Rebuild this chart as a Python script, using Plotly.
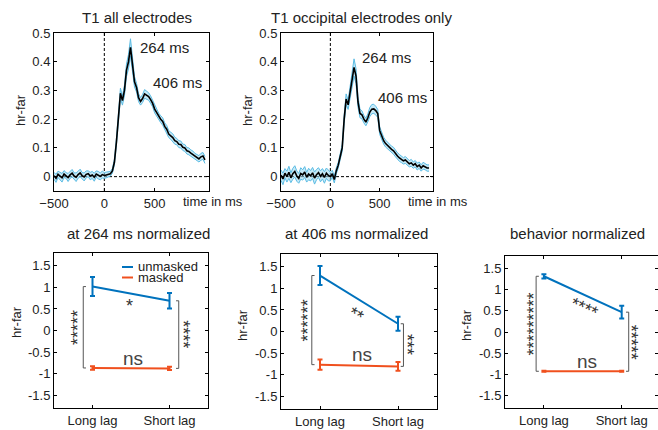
import plotly.graph_objects as go

W, H = 658, 430
FONT = "Liberation Sans, Arial, sans-serif"

# ---------------- data ----------------
time_ms = list(range(-500, 1001, 20))

t1_all_mean = [
    0.003, -0.006, 0.008, 0.001, -0.004, 0.009, 0.004, -0.003, 0.006, 0.012,
    0.002, -0.002, 0.007, 0.013, 0.003, -0.001, 0.008, 0.010, 0.002, 0.006,
    -0.002, 0.009, 0.005, 0.001, 0.007,
    0.004, 0.006, 0.008, 0.010, 0.020, 0.050, 0.120, 0.220, 0.290, 0.265,
    0.300, 0.370, 0.400, 0.450, 0.390, 0.330, 0.310, 0.275, 0.262, 0.272,
    0.288, 0.284, 0.279, 0.268, 0.255, 0.235, 0.222, 0.208, 0.200, 0.192,
    0.175, 0.165, 0.148, 0.142, 0.136, 0.125, 0.122, 0.113, 0.112, 0.102,
    0.100, 0.090, 0.088, 0.082, 0.077, 0.070, 0.066, 0.062, 0.069, 0.072,
    0.058,
]
t1_all_sem = [
    0.012, 0.014, 0.011, 0.013, 0.015, 0.012, 0.010, 0.014, 0.012, 0.013,
    0.011, 0.015, 0.012, 0.013, 0.011, 0.014, 0.012, 0.010, 0.013, 0.012,
    0.014, 0.011, 0.013, 0.012, 0.012,
    0.010, 0.010, 0.008, 0.008, 0.008, 0.010, 0.012, 0.015, 0.018, 0.016,
    0.018, 0.022, 0.025, 0.030, 0.024, 0.018, 0.015, 0.014, 0.013, 0.014,
    0.015, 0.014, 0.013, 0.013, 0.012, 0.013, 0.012, 0.013, 0.012, 0.013,
    0.012, 0.013, 0.012, 0.012, 0.013, 0.012, 0.011, 0.012, 0.012, 0.011,
    0.012, 0.011, 0.012, 0.011, 0.012, 0.011, 0.012, 0.011, 0.012, 0.012,
    0.012,
]
t1_occ_mean = [
    0.005, -0.008, 0.012, 0.000, 0.015, -0.004, 0.010, 0.018, 0.002, -0.006,
    0.011, 0.006, 0.016, -0.002, 0.009, 0.003, 0.013, -0.005, 0.007, 0.014,
    0.001, 0.010, -0.003, 0.012, 0.004,
    0.000, 0.010, -0.010, 0.020, 0.040, 0.070, 0.100, 0.200, 0.270, 0.250,
    0.290, 0.330, 0.380, 0.350, 0.260, 0.220, 0.215, 0.200, 0.190, 0.205,
    0.225, 0.235, 0.236, 0.230, 0.220, 0.160, 0.140, 0.125, 0.115, 0.108,
    0.100, 0.095, 0.090, 0.080, 0.072, 0.065, 0.060, 0.055, 0.058, 0.050,
    0.045, 0.048, 0.040, 0.045, 0.035, 0.040, 0.030, 0.038, 0.035, 0.030,
    0.030,
]
t1_occ_sem = [
    0.018, 0.020, 0.016, 0.019, 0.021, 0.017, 0.019, 0.020, 0.018, 0.017,
    0.020, 0.018, 0.019, 0.017, 0.020, 0.018, 0.019, 0.021, 0.018, 0.017,
    0.019, 0.018, 0.020, 0.018, 0.019,
    0.015, 0.012, 0.012, 0.010, 0.010, 0.010, 0.012, 0.015, 0.018, 0.016,
    0.020, 0.025, 0.030, 0.026, 0.018, 0.015, 0.014, 0.013, 0.013, 0.014,
    0.016, 0.016, 0.016, 0.015, 0.014, 0.013, 0.012, 0.012, 0.012, 0.011,
    0.012, 0.011, 0.012, 0.011, 0.011, 0.012, 0.011, 0.011, 0.012, 0.011,
    0.011, 0.012, 0.011, 0.011, 0.012, 0.011, 0.011, 0.012, 0.011, 0.011,
    0.011,
]

lags = ["Long lag", "Short lag"]
lag_pos = [1, 2]

p264_unmasked = [1.02, 0.69]
p264_unmasked_err = [0.22, 0.18]
p264_masked = [-0.87, -0.88]
p264_masked_err = [0.04, 0.04]

p406_unmasked = [1.30, 0.18]
p406_unmasked_err = [0.22, 0.16]
p406_masked = [-0.77, -0.81]
p406_masked_err = [0.12, 0.10]

beh_unmasked = [1.32, 0.47]
beh_unmasked_err = [0.05, 0.15]
beh_masked = [-0.93, -0.93]
beh_masked_err = [0.01, 0.01]

titles_top = ["T1 all electrodes", "T1 occipital electrodes only"]
titles_bottom = ["at 264 ms normalized", "at 406 ms normalized", "behavior normalized"]

BLUE = "#0072BD"
ORANGE = "#F0501E"
BAND_LINE = "#5BBCE4"
BAND_FILL = "rgba(150,215,240,0.55)"
GRAY = "#555555"


def px_x(p):
    return p / W


def px_y(p):
    return 1 - p / H


fig = go.Figure()

# ---------------- axes layout ----------------
axis_common = dict(
    showline=True, linecolor="black", linewidth=1, mirror="ticks",
    ticks="inside", ticklen=3, tickcolor="black", showgrid=False,
    zeroline=False, automargin=False,
    tickfont=dict(family=FONT, size=13, color="#222"),
)

top_dom_x = [[px_x(54), px_x(209)], [px_x(281), px_x(433)]]
top_dom_y = [px_y(191), px_y(33)]
bot_dom_x = [[px_x(54), px_x(208)], [px_x(281), px_x(437)], [px_x(505), px_x(657.5)]]
bot_dom_y = [[px_y(408), px_y(253)], [px_y(409), px_y(254)], [px_y(408), px_y(256)]]
bot_xrange = [[0.5, 2.5], [0.5, 2.5], [0.5, 2.46]]

layout = dict(
    width=W, height=H, margin=dict(l=0, r=0, t=0, b=0, autoexpand=False),
    paper_bgcolor="white", plot_bgcolor="white", showlegend=False,
    font=dict(family=FONT, size=13, color="#222"),
)
for i in range(2):
    n = "" if i == 0 else str(i + 1)
    layout["xaxis" + n] = dict(axis_common, domain=top_dom_x[i], range=[-500, 1040],
                               tickvals=[-500, 0, 500], anchor="y" + n)
    layout["yaxis" + n] = dict(axis_common, domain=top_dom_y, range=[-0.05, 0.5],
                               tickvals=[0, 0.1, 0.2, 0.3, 0.4, 0.5],
                               ticktext=["0", "0.1", "0.2", "0.3", "0.4", "0.5"],
                               anchor="x" + n)
for i in range(3):
    n = str(i + 3)
    layout["xaxis" + n] = dict(axis_common, domain=bot_dom_x[i], range=bot_xrange[i],
                               tickvals=lag_pos, ticktext=lags, anchor="y" + n)
    layout["yaxis" + n] = dict(axis_common, domain=bot_dom_y[i], range=[-1.8, 1.8],
                               tickvals=[-1.5, -1, -0.5, 0, 0.5, 1, 1.5],
                               ticktext=["-1.5", "-1", "-0.5", "0", "0.5", "1", "1.5"],
                               anchor="x" + n)
fig.update_layout(**layout)

# ---------------- top panels ----------------
top_series = [(t1_all_mean, t1_all_sem), (t1_occ_mean, t1_occ_sem)]
shapes = []
for i, (m, s) in enumerate(top_series):
    n = "" if i == 0 else str(i + 1)
    xa, ya = "x" + n, "y" + n
    upper = [a + b for a, b in zip(m, s)]
    lower = [a - b for a, b in zip(m, s)]
    shapes.append(dict(type="line", xref=xa, yref=ya + " domain", x0=0, x1=0, y0=0, y1=1,
                       line=dict(color="black", width=1, dash="3px,2px"), layer="below"))
    shapes.append(dict(type="line", xref=xa + " domain", yref=ya, x0=0, x1=1, y0=0, y1=0,
                       line=dict(color="black", width=1, dash="3px,2px"), layer="below"))
    fig.add_trace(go.Scatter(x=time_ms, y=upper, mode="lines", xaxis=xa, yaxis=ya,
                             line=dict(color=BAND_LINE, width=1), hoverinfo="skip"))
    fig.add_trace(go.Scatter(x=time_ms, y=lower, mode="lines", xaxis=xa, yaxis=ya,
                             line=dict(color=BAND_LINE, width=1), fill="tonexty",
                             fillcolor=BAND_FILL, hoverinfo="skip"))
    fig.add_trace(go.Scatter(x=time_ms, y=m, mode="lines", xaxis=xa, yaxis=ya,
                             line=dict(color="black", width=1.6)))

# ---------------- bottom panels ----------------
bottom = [
    (p264_unmasked, p264_unmasked_err, p264_masked, p264_masked_err),
    (p406_unmasked, p406_unmasked_err, p406_masked, p406_masked_err),
    (beh_unmasked, beh_unmasked_err, beh_masked, beh_masked_err),
]
for i, (um, ue, mm, me) in enumerate(bottom):
    n = str(i + 3)
    xa, ya = "x" + n, "y" + n
    fig.add_trace(go.Scatter(x=lag_pos, y=um, mode="lines", xaxis=xa, yaxis=ya,
                             line=dict(color=BLUE, width=2),
                             error_y=dict(type="data", array=ue, color=BLUE, thickness=2, width=2.5)))
    fig.add_trace(go.Scatter(x=lag_pos, y=mm, mode="lines", xaxis=xa, yaxis=ya,
                             line=dict(color=ORANGE, width=2),
                             error_y=dict(type="data", array=me, color=ORANGE, thickness=2, width=2.5)))

# brackets & significance stars
# (left bracket x, left stars x, left stars, right bracket x, right stars x, right stars,
#  between-condition stars (x, y, angle, text), ns (x, y))
bracket_cfg = [
    (0.88, 0.82, "*****", 2.12, 2.18, "****", (1.48, 0.56, 0, "*"), (1.53, -0.64)),
    (0.895, 0.85, "******", 2.07, 2.115, "***", (1.466, 0.39, 32, "**"), (1.54, -0.54)),
    (0.90, 0.87, "*********", 2.09, 2.12, "*****", (1.51, 0.56, 24, "****"), (1.55, -0.71)),
]
annotations = []
STAR_FONT = dict(family=FONT, size=18, color="#333")
for i, (um, ue, mm, me) in enumerate(bottom):
    n = str(i + 3)
    xa, ya = "x" + n, "y" + n
    lbx, lsx, lst, rbx, rsx, rst, mid, ns = bracket_cfg[i]
    d = 0.035
    shapes.append(dict(type="path", xref=xa, yref=ya, line=dict(color=GRAY, width=1),
                       path=f"M {lbx + d},{um[0]} L {lbx},{um[0]} L {lbx},{mm[0]} L {lbx + d},{mm[0]}"))
    shapes.append(dict(type="path", xref=xa, yref=ya, line=dict(color=GRAY, width=1),
                       path=f"M {rbx - d},{um[1]} L {rbx},{um[1]} L {rbx},{mm[1]} L {rbx - d},{mm[1]}"))
    annotations.append(dict(xref=xa, yref=ya, x=lsx, y=(um[0] + mm[0]) / 2, text=lst,
                            textangle=-90, showarrow=False, font=STAR_FONT))
    annotations.append(dict(xref=xa, yref=ya, x=rsx, y=(um[1] + mm[1]) / 2, text=rst,
                            textangle=90, showarrow=False, font=STAR_FONT))
    annotations.append(dict(xref=xa, yref=ya, x=mid[0], y=mid[1], text=mid[3],
                            textangle=mid[2], showarrow=False, font=STAR_FONT))
    annotations.append(dict(xref=xa, yref=ya, x=ns[0], y=ns[1], text="ns", showarrow=False,
                            font=dict(family=FONT, size=19, color="#444")))

# legend (panel 1)
shapes.append(dict(type="line", xref="paper", yref="paper", x0=px_x(122), x1=px_x(133),
                   y0=px_y(267), y1=px_y(267), line=dict(color=BLUE, width=2)))
shapes.append(dict(type="line", xref="paper", yref="paper", x0=px_x(122), x1=px_x(133),
                   y0=px_y(277.5), y1=px_y(277.5), line=dict(color=ORANGE, width=2)))
for txt, yy in [("unmasked", 266.5), ("masked", 277.5)]:
    annotations.append(dict(xref="paper", yref="paper", x=px_x(136), y=px_y(yy), text=txt,
                            xanchor="left", yanchor="middle", showarrow=False,
                            font=dict(family=FONT, size=13, color="#222")))

# titles
for txt, cx in zip(titles_top, [136.5, 361.5]):
    annotations.append(dict(xref="paper", yref="paper", x=px_x(cx), y=px_y(17), text=txt,
                            xanchor="center", yanchor="middle", showarrow=False,
                            font=dict(family=FONT, size=15, color="#222")))
for txt, cx in zip(titles_bottom, [138, 356, 577]):
    annotations.append(dict(xref="paper", yref="paper", x=px_x(cx), y=px_y(233), text=txt,
                            xanchor="center", yanchor="middle", showarrow=False,
                            font=dict(family=FONT, size=15, color="#222")))

# y labels
for cx, cy in [(20, 110), (247, 110), (16, 322), (242, 325), (466, 325)]:
    annotations.append(dict(xref="paper", yref="paper", x=px_x(cx), y=px_y(cy), text="hr-far",
                            textangle=-90, xanchor="center", yanchor="middle", showarrow=False,
                            font=dict(family=FONT, size=13, color="#222")))

# "time in ms" labels
for lx in [181, 406]:
    annotations.append(dict(xref="paper", yref="paper", x=px_x(lx), y=px_y(201), text="time in ms",
                            xanchor="left", yanchor="middle", showarrow=False,
                            font=dict(family=FONT, size=13, color="#222")))

# peak labels
for xa, ya, x, y, txt in [("x", "y", 335, 0.448, "264 ms"), ("x", "y", 464, 0.329, "406 ms"),
                          ("x2", "y2", 297, 0.416, "264 ms"), ("x2", "y2", 459, 0.276, "406 ms")]:
    annotations.append(dict(xref=xa, yref=ya, x=x, y=y, text=txt, xanchor="left",
                            yanchor="middle", showarrow=False,
                            font=dict(family=FONT, size=15, color="#222")))

fig.update_layout(shapes=shapes, annotations=annotations)
fig.write_html(
    "out.html",
    config={"displayModeBar": False},
    post_script="document.body.style.margin='0';document.body.style.overflow='hidden';",
)
